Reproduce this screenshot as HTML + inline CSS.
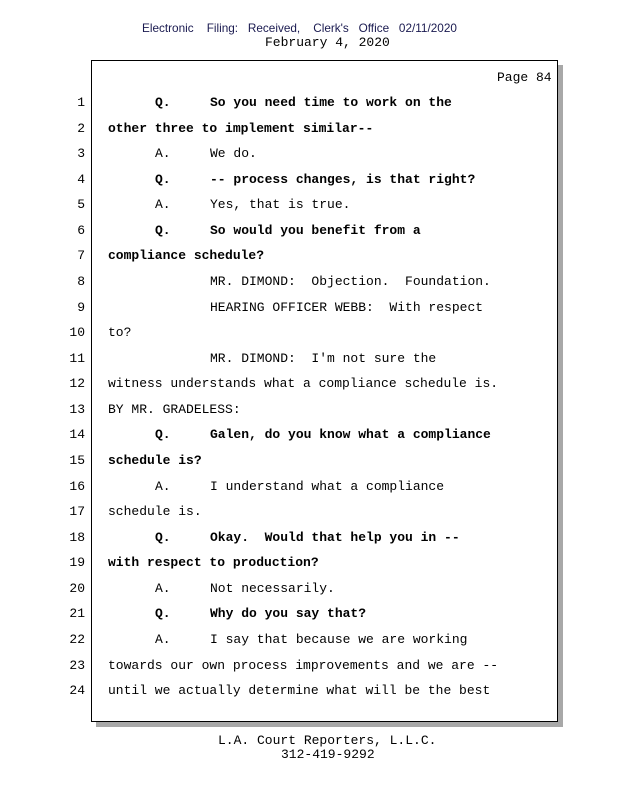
<!DOCTYPE html>
<html><head><meta charset="utf-8"><style>
body{margin:0;width:618px;height:800px;background:#fff;position:relative;overflow:hidden;font-family:"Liberation Mono",monospace;color:#000}
.a{position:absolute;white-space:pre;line-height:16px}
.m{font-size:13px}
.b{font-weight:bold}
.n{position:absolute;left:60px;width:25px;text-align:right;font-size:13px;line-height:16px}
</style></head><body>
<div class="a" style="left:142px;top:20px;font-family:'Liberation Sans',sans-serif;font-size:12px;color:#1a1a50;transform:scaleX(0.98);transform-origin:left">Electronic    Filing:   Received,    Clerk's   Office   02/11/2020</div>
<div class="a m" style="left:265px;top:35px">February 4, 2020</div>
<div style="position:absolute;left:96px;top:65px;width:467px;height:662px;background:#a8a8a8"></div>
<div style="position:absolute;left:91px;top:60px;width:465px;height:660px;border:1px solid #000;background:#fff"></div>
<div class="a m" style="left:497px;top:70px">Page 84</div>
<div id="lines"></div>
<div class="a m" style="left:218px;top:733px">L.A. Court Reporters, L.L.C.</div>
<div class="a m" style="left:281px;top:747px">312-419-9292</div>
<script>
var L=[
["b","Q.","So you need time to work on the"],
["b","","other three to implement similar--"],
["","A.","We do."],
["b","Q.","-- process changes, is that right?"],
["","A.","Yes, that is true."],
["b","Q.","So would you benefit from a"],
["b","","compliance schedule?"],
["","","MR. DIMOND:  Objection.  Foundation.",1],
["","","HEARING OFFICER WEBB:  With respect",1],
["","","to?"],
["","","MR. DIMOND:  I'm not sure the",1],
["","","witness understands what a compliance schedule is."],
["","","BY MR. GRADELESS:"],
["b","Q.","Galen, do you know what a compliance"],
["b","","schedule is?"],
["","A.","I understand what a compliance"],
["","","schedule is."],
["b","Q.","Okay.  Would that help you in --"],
["b","","with respect to production?"],
["","A.","Not necessarily."],
["b","Q.","Why do you say that?"],
["","A.","I say that because we are working"],
["","","towards our own process improvements and we are --"],
["","","until we actually determine what will be the best"]];
function e(s){return s.replace(/&/g,"&amp;").replace(/</g,"&lt;");}
var h="";
for(var i=0;i<24;i++){var y=95+i*25.57,r=L[i];
h+='<div class="n" style="top:'+y+'px">'+(i+1)+'</div>';
if(r[1]){h+='<div class="a m '+r[0]+'" style="left:155px;top:'+y+'px">'+r[1]+'</div>';
h+='<div class="a m '+r[0]+'" style="left:210px;top:'+y+'px">'+e(r[2])+'</div>';}
else h+='<div class="a m '+r[0]+'" style="left:'+(r[3]?210:108)+'px;top:'+y+'px">'+e(r[2])+'</div>';}
document.getElementById("lines").innerHTML=h;
</script>
</body></html>
